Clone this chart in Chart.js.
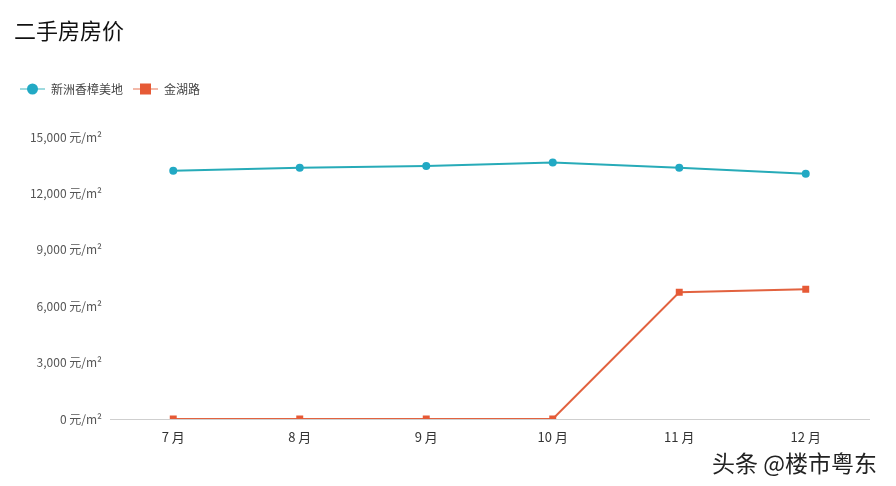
<!DOCTYPE html>
<html>
<head>
<meta charset="utf-8">
<script src="https://cdn.jsdelivr.net/npm/chart.js@4.4.0/dist/chart.umd.min.js"></script>
<style>
  html, body { margin: 0; padding: 0; background: #fff; }
  #wrap { position: relative; width: 896px; height: 486px; font-family: "Noto Sans CJK SC", "Noto Sans", sans-serif; }
  #title { position: absolute; left: 14px; top: 13px; font-size: 22px; color: #111; }
  #mark { position: absolute; left: 712px; top: 445px; font-size: 23px; color: #222;
          text-shadow: 1px 1px 0 #fff, -1px -1px 0 #fff, 1px -1px 0 #fff, -1px 1px 0 #fff; }
</style>
</head>
<body>
<div id="wrap">
  <canvas id="priceChart" width="896" height="486"></canvas>
  <div id="title">二手房房价</div>
  <div id="mark">头条 @楼市粤东</div>
</div>
<script>
const months = ['7 月', '8 月', '9 月', '10 月', '11 月', '12 月'];
const xinzhouPrice = [13200, 13370, 13460, 13650, 13360, 13050];
const jinhuPrice = [0, 0, 0, 0, 6740, 6900];
const seriesNames = ['新洲香樟美地', '金湖路'];

const fontFam = '"Noto Sans CJK SC", "Noto Sans", sans-serif';

// legend: short line with marker, like the original
const lineLegend = {
    id: 'lineLegend',
    afterDraw(chart) {
        const ctx = chart.ctx;
        let x = 20;
        const y = 89;
        ctx.save();
        ctx.font = '12px ' + fontFam;
        ctx.textBaseline = 'middle';
        chart.data.datasets.forEach(ds => {
            ctx.strokeStyle = ds.borderColor;
            ctx.globalAlpha = 0.6;
            ctx.lineWidth = 1.5;
            ctx.beginPath();
            ctx.moveTo(x, y);
            ctx.lineTo(x + 25, y);
            ctx.stroke();
            ctx.globalAlpha = 1;
            ctx.fillStyle = ds.pointBackgroundColor;
            if (ds.pointStyle === 'rect') {
                ctx.fillRect(x + 7, y - 5.5, 11, 11);
            } else {
                ctx.beginPath();
                ctx.arc(x + 12.5, y, 5.5, 0, Math.PI * 2);
                ctx.fill();
            }
            ctx.fillStyle = '#444';
            ctx.fillText(ds.label, x + 31, y);
            x += 31 + ctx.measureText(ds.label).width + 10;
        });
        ctx.restore();
    }
};

const ctx = document.getElementById('priceChart').getContext('2d');
const priceChart = new Chart(ctx, {
    type: 'line',
    data: {
        labels: months,
        datasets: [
            {
                label: seriesNames[0],
                data: xinzhouPrice,
                borderColor: '#27abb8',
                backgroundColor: '#27abb8',
                pointBackgroundColor: '#22a9c4',
                pointBorderColor: '#22a9c4',
                pointStyle: 'circle',
                pointRadius: 3,
                borderWidth: 2,
                tension: 0
            },
            {
                label: seriesNames[1],
                data: jinhuPrice,
                borderColor: '#e2623f',
                backgroundColor: '#e2623f',
                pointBackgroundColor: '#e65a36',
                pointBorderColor: '#e65a36',
                pointStyle: 'rect',
                pointRadius: 3.5,
                borderWidth: 2,
                tension: 0
            }
        ]
    },
    options: {
        responsive: false,
        animation: false,
        layout: { padding: { top: 137, right: 27, bottom: 0, left: 0 } },
        scales: {
            x: {
                offset: true,
                grid: { display: false },
                border: { color: '#cfcfcf', width: 1 },
                ticks: { color: '#333', font: { size: 13, family: fontFam }, padding: 2 },
                afterFit(scale) { scale.height = 67; }
            },
            y: {
                min: 0,
                max: 15000,
                grid: { display: false, drawTicks: false },
                border: { display: false },
                ticks: {
                    stepSize: 3000,
                    color: '#555',
                    padding: 8,
                    font: { size: 12, family: fontFam },
                    callback: v => v.toLocaleString('en-US') + ' 元/m²'
                },
                afterFit(scale) { scale.width = 110; }
            }
        },
        plugins: {
            legend: { display: false },
            tooltip: { enabled: false }
        }
    },
    plugins: [lineLegend]
});
</script>
</body>
</html>
